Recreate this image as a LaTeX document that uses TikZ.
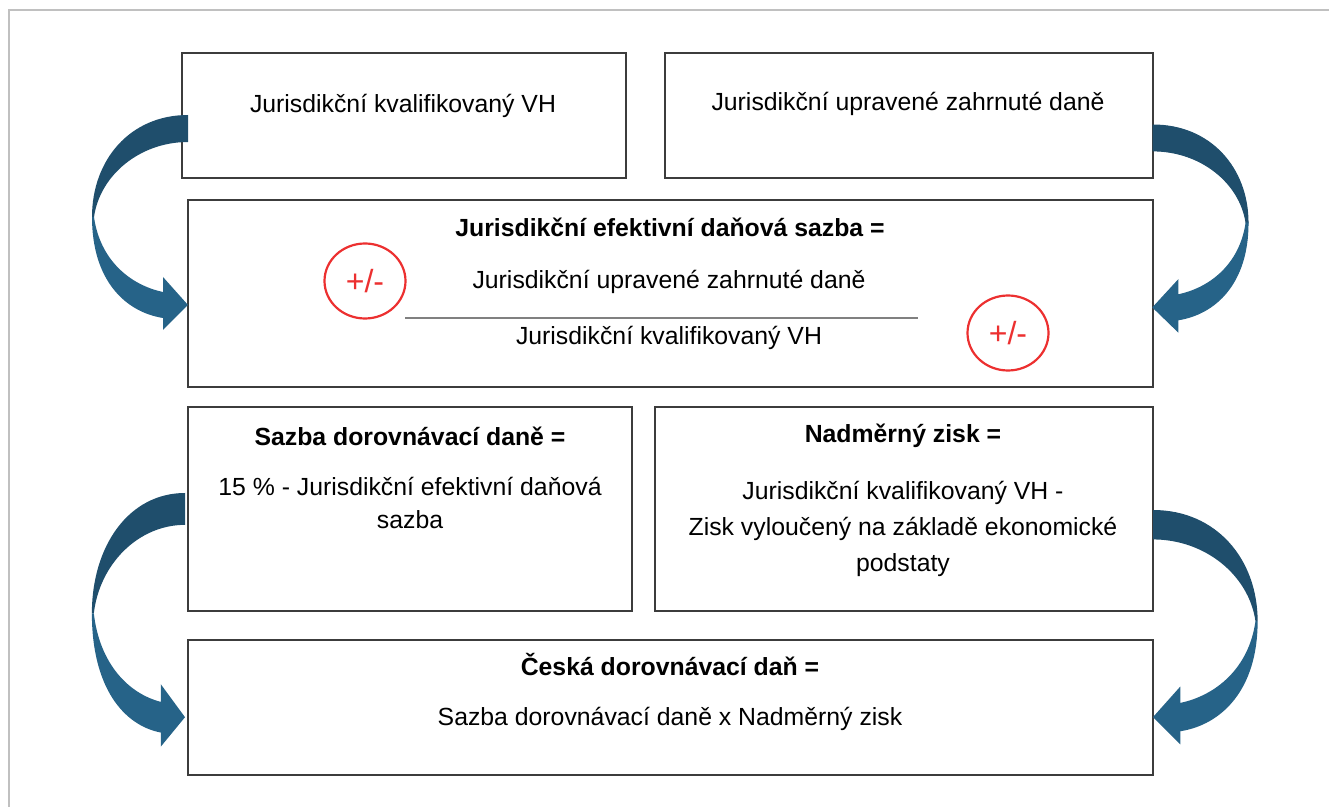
\documentclass[tikz,border=0pt]{standalone}
\usepackage{fontspec}
\setmainfont{Liberation Sans}
\usetikzlibrary{shapes.geometric}
\definecolor{arrowdark}{RGB}{31,78,108}
\definecolor{arrowlight}{RGB}{38,99,136}
\definecolor{boxline}{RGB}{60,60,60}
\definecolor{signred}{RGB}{236,48,48}
\definecolor{pagegrey}{RGB}{192,192,192}
\tikzset{
  box/.style={draw=boxline,line width=0.8pt},
  txt/.style={inner sep=0pt,align=center,font=\fontsize{12.4}{16.5}\selectfont},
  headtxt/.style={txt,font=\fontsize{12.4}{16.5}\selectfont\bfseries},
  sign/.style={ellipse,draw=signred,line width=1.1pt,text=signred,minimum width=40.5pt,
    minimum height=37.5pt,inner sep=0pt,font=\fontsize{16}{18}\selectfont},
  bendarrow/.pic={
    \fill[arrowdark,pic actions](0,0)..controls(-58,0)and(-96,45)..(-96,102)--(-94,102)
      ..controls(-88,60)and(-48,27)..(0,27)--cycle;
    \fill[arrowlight,pic actions](-96,102)..controls(-96,165)and(-63,197)..(-25,203)
      --(-25,215)--(0,190)--(-25,162)--(-25,177)..controls(-58,170)and(-88,145)..(-94,102)--cycle;
  }
}
\begin{document}
\begin{tikzpicture}[x=0.5pt,y=-0.5pt]
\useasboundingbox(0,0)rectangle(1329,807);
\draw[pagegrey,line width=1pt](9,807)--(9,10)--(1329,10);
% boxes
\draw[box](182,53)rectangle(626,178);
\draw[box](665,53)rectangle(1153,178);
\draw[box](188,200)rectangle(1153,387);
\draw[box](188,407)rectangle(632,611);
\draw[box](655,407)rectangle(1153,611);
\draw[box](188,640)rectangle(1153,775);
% texts
\node[txt](vh)at(403,106){Jurisdikční kvalifikovaný VH};
\node[txt](dane)at(908,104){Jurisdikční upravené zahrnuté daně};
\node[headtxt](eds)at(670,227){Jurisdikční efektivní daňová sazba =};
\node[txt](citatel)at(669,282){Jurisdikční upravené zahrnuté daně};
\node[txt](jmenovatel)at(669,338){Jurisdikční kvalifikovaný VH};
\draw[gray,line width=0.8pt](405,318)--(918,318);
\node[sign](pmA)at(365,281){+/-};
\node[sign](pmB)at(1008,333){+/-};
\node[headtxt](sdd)at(410,436){Sazba dorovnávací daně =};
\node[txt,anchor=north](sddtxt)at(410,477){15 \% - Jurisdikční efektivní daňová\\sazba};
\node[headtxt](nz)at(903,436){Nadměrný zisk =};
\node[txt,anchor=north,font=\fontsize{12.4}{18}\selectfont](nztxt)at(903,481)
  {Jurisdikční kvalifikovaný VH -\\Zisk vyloučený na základě ekonomické\\podstaty};
\node[headtxt](cdd)at(670,665){Česká dorovnávací daň =};
\node[txt](cddtxt)at(670,719){Sazba dorovnávací daně x Nadměrný zisk};
% arrows
\pic at(188,115){bendarrow};
\pic[draw=black!85,line width=0.5pt,xscale=-0.99,yscale=0.96] at(1153,125){bendarrow};
\pic[xscale=0.97,yscale=1.18] at(185,493){bendarrow};
\pic[xscale=-1.09,yscale=1.09] at(1153,510){bendarrow};
\end{tikzpicture}
\end{document}
